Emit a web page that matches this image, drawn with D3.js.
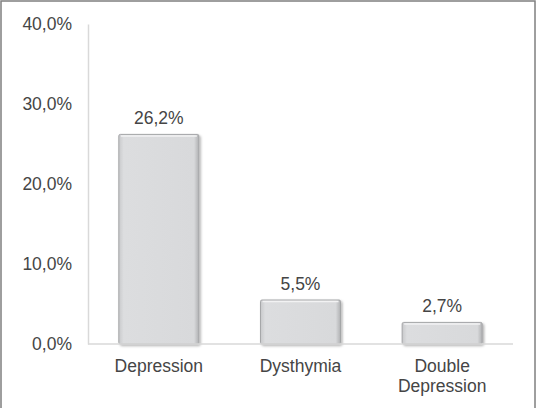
<!DOCTYPE html>
<html><head><meta charset="utf-8">
<script src="https://cdn.jsdelivr.net/npm/d3@7"></script>
<style>body{margin:0;background:#fff}svg{display:block}</style>
</head><body>
<script>
const categories = [["Depression"], ["Dysthymia"], ["Double", "Depression"]];
const values = [26.2, 5.5, 2.7];
const valueLabels = ["26,2%", "5,5%", "2,7%"];
const yTicks = [0, 10, 20, 30, 40];
const yTickLabels = ["0,0%", "10,0%", "20,0%", "30,0%", "40,0%"];

(function() {
const W = 540, H = 408;
const svg = d3.select("body").append("svg").attr("width", W).attr("height", H);
const defs = svg.append("defs");
const grad = defs.append("linearGradient").attr("id", "barGrad").attr("x1", 0).attr("x2", 1).attr("y1", 0).attr("y2", 0);
grad.append("stop").attr("offset", "0%").attr("stop-color", "#c8c9cb");
grad.append("stop").attr("offset", "6%").attr("stop-color", "#dcdddf");
grad.append("stop").attr("offset", "94%").attr("stop-color", "#d8d9db");
grad.append("stop").attr("offset", "100%").attr("stop-color", "#b0b1b3");
const f = defs.append("filter").attr("id", "shadow").attr("x", "-10%").attr("y", "-10%").attr("width", "130%").attr("height", "130%");
f.append("feDropShadow").attr("dx", 1.5).attr("dy", 1.5).attr("stdDeviation", 1.2).attr("flood-color", "#000").attr("flood-opacity", 0.3);

// outer frame
svg.append("rect").attr("x", 1).attr("y", 1).attr("width", 534).attr("height", H + 10)
  .attr("fill", "none").attr("stroke", "#7f7f7f").attr("stroke-width", 1.5);

const mLeft = 88, mRight = 513, mTop = 24, mBottom = 344;
const x = d3.scaleBand().domain(d3.range(categories.length)).range([mLeft, mRight]).paddingInner(0.435).paddingOuter(0.2175);
const y = d3.scaleLinear().domain([0, 40]).range([mBottom, mTop]);

const font = "Liberation Sans, Arial, sans-serif";
const txt = "#454545";
const fs = 17.5;

// y axis
const yAxis = d3.axisLeft(y).tickValues(yTicks).tickFormat((d, i) => yTickLabels[i]).tickSize(0).tickPadding(16);
const gy = svg.append("g").attr("transform", `translate(${mLeft},0)`).call(yAxis);
gy.select(".domain").attr("stroke", "#d9d9d9").attr("stroke-width", 1.5);
gy.selectAll("text").attr("font-family", font).attr("font-size", fs).attr("fill", txt);

// bars
svg.append("g").selectAll("rect").data(values).join("rect")
  .attr("x", (d, i) => x(i)).attr("width", x.bandwidth())
  .attr("y", d => y(d)).attr("height", d => y(0) - y(d))
  .attr("fill", "url(#barGrad)").attr("stroke", "#a5a6a8").attr("stroke-width", 1)
  .attr("rx", 1.5).attr("filter", "url(#shadow)");
// top highlight
svg.append("g").selectAll("line").data(values).join("line")
  .attr("x1", (d, i) => x(i) + 2).attr("x2", (d, i) => x(i) + x.bandwidth() - 2)
  .attr("y1", d => y(d) + 1.5).attr("y2", d => y(d) + 1.5)
  .attr("stroke", "#f2f2f3").attr("stroke-width", 1.5);

// baseline
svg.append("line").attr("x1", mLeft).attr("x2", mRight).attr("y1", y(0)).attr("y2", y(0))
  .attr("stroke", "#d9d9d9").attr("stroke-width", 1.5);

// value labels
svg.append("g").selectAll("text").data(values).join("text")
  .attr("x", (d, i) => x(i) + x.bandwidth() / 2).attr("y", d => y(d) - 10)
  .attr("text-anchor", "middle").attr("font-family", font).attr("font-size", fs).attr("fill", txt)
  .text((d, i) => valueLabels[i]);

// category labels
const xAxis = d3.axisBottom(x).tickSize(0).tickFormat("");
const gx = svg.append("g").attr("transform", `translate(0,${mBottom})`).call(xAxis);
gx.select(".domain").remove();
gx.selectAll(".tick").each(function(d) {
  const t = d3.select(this).append("text").attr("text-anchor", "middle")
    .attr("font-family", font).attr("font-size", fs).attr("fill", txt);
  categories[d].forEach((line, j) => t.append("tspan").attr("x", 0).attr("y", 28 + j * 20).text(line));
});
})();
</script>
</body></html>
